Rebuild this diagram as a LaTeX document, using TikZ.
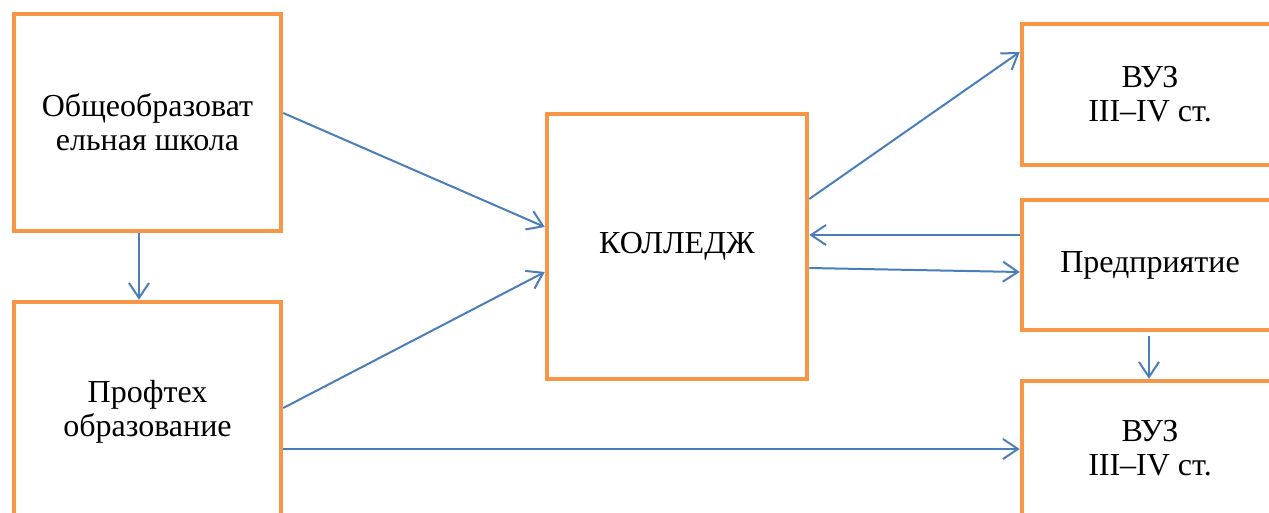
\documentclass[tikz,border=0pt]{standalone}
\usepackage{fontspec}
\setmainfont{Liberation Serif}
\usetikzlibrary{arrows.meta}
\definecolor{boxorange}{HTML}{F79646}
\definecolor{arrowblue}{HTML}{4A7EBB}
\tikzset{
  boxnode/.style={draw=boxorange, line width=4.5pt, fill=white, inner sep=0pt,
    align=center, font=\fontsize{32}{34}\selectfont, rectangle},
  conn/.style={draw=arrowblue, line width=2pt,
    -{Straight Barb[length=15pt,width=20pt,line width=2pt]}},
}
\begin{document}
\begin{tikzpicture}[x=1pt,y=-1pt]
\useasboundingbox (0,0) rectangle (1269,512);
\clip (0,0) rectangle (1269,512);
\fill[white] (0,0) rectangle (1269,512);
\node[boxnode, minimum width=267pt, minimum height=217pt] (A) at (147.5,122.5) {Общеобразоват\\ельная школа};
\node[boxnode, minimum width=267pt, minimum height=220pt] (B) at (147.5,412) {Профтех\\образование};
\node[boxnode, minimum width=260pt, minimum height=265pt] (C) at (677,246.5) {КОЛЛЕДЖ};
\node[boxnode, minimum width=256pt, minimum height=141pt] (D) at (1150,94.5) {ВУЗ\\III–IV ст.};
\node[boxnode, minimum width=256pt, minimum height=130pt] (E) at (1150,265) {Предприятие};
\node[boxnode, minimum width=256pt, minimum height=135pt] (F) at (1150,448.5) {ВУЗ\\III–IV ст.};
\draw[conn] ([yshift=9.5pt]A.east) -- ([yshift=19.5pt]C.west);
\draw[conn] ([yshift=4pt]B.east) -- ([yshift=-25.5pt]C.west);
\draw[conn] ([xshift=-8.5pt]A.south) -- ([xshift=-8.5pt]B.north);
\draw[conn] ([yshift=47.5pt]C.east) -- ([yshift=42.5pt]D.west);
\draw[conn] ([yshift=30pt]E.west) -- ([yshift=11.5pt]C.east);
\draw[conn] ([yshift=-21.5pt]C.east) -- ([yshift=-7pt]E.west);
\draw[conn, shorten <=4pt] ([xshift=-1pt]E.south) -- ([xshift=-1pt]F.north);
\draw[conn] ([yshift=-37pt]B.east) -- ([yshift=-0.5pt]F.west);
\end{tikzpicture}
\end{document}
